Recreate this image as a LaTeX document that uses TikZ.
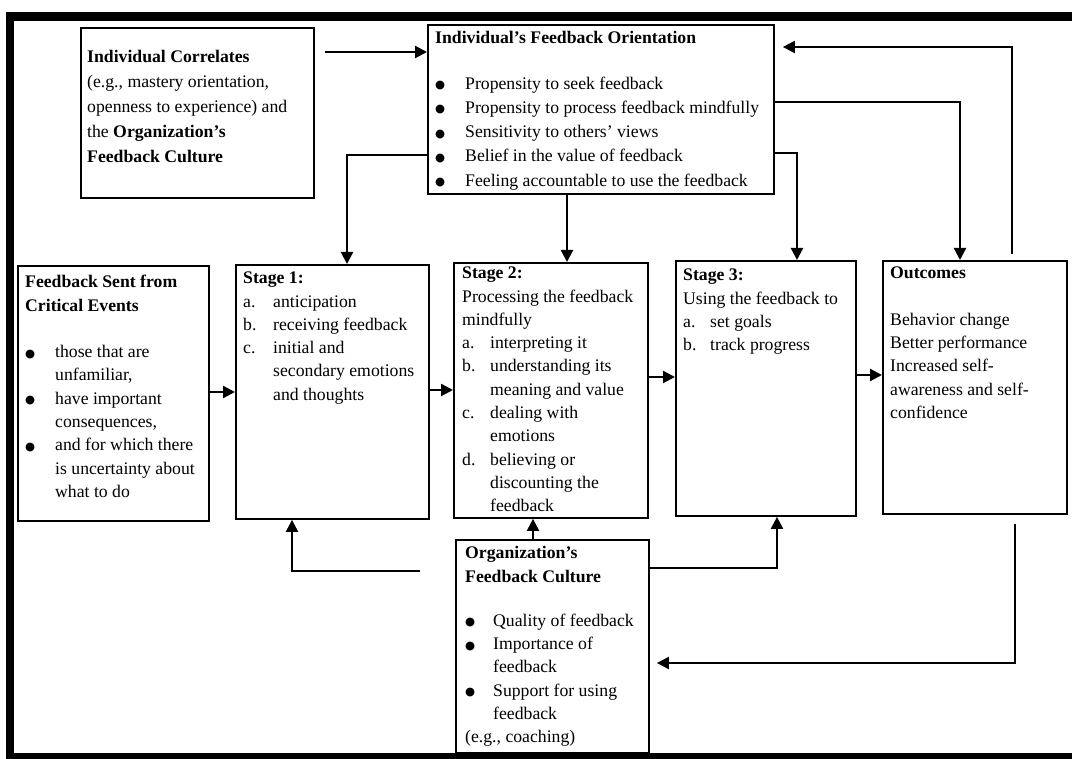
\documentclass[tikz,border=0pt]{standalone}
\usepackage{fontspec}
\setmainfont{Liberation Serif}
\newfontfamily\symfont{DejaVu Sans}
\usetikzlibrary{arrows.meta,calc}
% body text: Times-like serif, one size throughout
\newcommand\bodyfont[1][23.3]{\fontsize{17.7}{#1}\selectfont}
% hanging labels for lettered / bulleted lists
\newcommand\lbl[2][30pt]{\makebox[#1][l]{#2}}
\newcommand\cont[1][30pt]{\hspace*{#1}}
% a heavier list bullet
\newcommand\bul{\raisebox{0.5pt}{\symfont\fontsize{11.5}{11.5}\selectfont ●}}
\begin{document}
\begin{tikzpicture}[x=1pt,y=-1pt,
  box/.style={draw, line width=1.9pt, anchor=north west, inner sep=0pt},
  txt/.style={anchor=north west, inner sep=0pt, align=left, font=\bodyfont},
  conn/.style={line width=2.2pt},
  arr/.style={conn, -{Triangle[length=12pt,width=12pt]}}]
\useasboundingbox (0,0) rectangle (1072,759);

% heavy frame on three sides
\fill (6,12) rectangle (1072,21);
\fill (6,12) rectangle (14,759);
\fill (14,753) rectangle (1072,759);

% boxes
\node[box, minimum width=233pt, minimum height=170pt] (corr)   at (80,27)  {};
\node[box, minimum width=346pt, minimum height=169pt] (orient) at (427,24) {};
\node[box, minimum width=191pt, minimum height=255pt] (sent)   at (17,265) {};
\node[box, minimum width=193pt, minimum height=254pt] (st1)    at (235,264) {};
\node[box, minimum width=194pt, minimum height=255pt] (st2)    at (453,262) {};
\node[box, minimum width=180pt, minimum height=255pt] (st3)    at (675,260) {};
\node[box, minimum width=184pt, minimum height=253pt] (out)    at (882,260) {};
\node[box, minimum width=193pt, minimum height=213pt] (org)    at (455,539) {};

% box texts
\node[txt, font={\bodyfont[25]}] (corrT) at (87,45) {\strut\textbf{Individual Correlates}\\
(e.g., mastery orientation,\\
openness to experience) and\\
the \textbf{Organization’s}\\
\textbf{Feedback Culture}};

\node[txt, font={\bodyfont[24.3]}] (orientT) at (435,26.5) {\strut\textbf{Individual’s Feedback Orientation}\\[21pt]
\lbl{\bul}Propensity to seek feedback\\
\lbl{\bul}Propensity to process feedback mindfully\\
\lbl{\bul}Sensitivity to others’ views\\
\lbl{\bul}Belief in the value of feedback\\
\lbl{\bul}Feeling accountable to use the feedback};

\node[txt] (sentT) at (25,271.2) {\strut\textbf{Feedback Sent from}\\
\textbf{Critical Events}\\[23.3pt]
\lbl{\bul}those that are\\
\cont unfamiliar,\\
\lbl{\bul}have important\\
\cont consequences,\\
\lbl{\bul}and for which there\\
\cont is uncertainty about\\
\cont what to do};

\node[txt] (st1T) at (243,267.2) {\strut\textbf{Stage 1:}\\
\lbl{a.}anticipation\\
\lbl{b.}receiving feedback\\
\lbl{c.}initial and\\
\cont secondary emotions\\
\cont and thoughts};

\node[txt] (st2T) at (462,262.2) {\strut\textbf{Stage 2:}\\
Processing the feedback\\
mindfully\\
\lbl[28pt]{a.}interpreting it\\
\lbl[28pt]{b.}understanding its\\
\cont[28pt]meaning and value\\
\lbl[28pt]{c.}dealing with\\
\cont[28pt]emotions\\
\lbl[28pt]{d.}believing or\\
\cont[28pt]discounting the\\
\cont[28pt]feedback};

\node[txt] (st3T) at (683,264.2) {\strut\textbf{Stage 3:}\\
Using the feedback to\\
\lbl[27pt]{a.}set goals\\
\lbl[27pt]{b.}track progress};

\node[txt] (outT) at (890,262.2) {\strut\textbf{Outcomes}\\[23.3pt]
Behavior change\\
Better performance\\
Increased self-\\
awareness and self-\\
confidence};

\node[txt] (orgT) at (465,542.2) {\strut\textbf{Organization’s}\\
\textbf{Feedback Culture}\\[21pt]
\lbl[28pt]{\bul}Quality of feedback\\
\lbl[28pt]{\bul}Importance of\\
\cont[28pt]feedback\\
\lbl[28pt]{\bul}Support for using\\
\cont[28pt]feedback\\
(e.g., coaching)};

% connectors
\draw[arr] ($(corr.east |- 0,52)+(10,0)$) -- (orient.west |- 0,52);
\draw[arr] (orient.west |- 0,155) -| (st1.north -| 347,0);
\draw[arr] (orient.south -| 567,0) -- (st2.north -| 567,0);
\draw[arr] (orient.east |- 0,153) -| (st3.north -| 797,0);
\draw[arr] (orient.east |- 0,102) -| (out.north -| 960,0);
\draw[arr] ($(out.north -| 1012,0)+(0,-6)$) |- ($(orient.east |- 0,47)+(8,0)$);

\draw[arr] (sent.east |- 0,392) -- (st1.west |- 0,392);
\draw[arr] (st1.east |- 0,390) -- (st2.west |- 0,390);
\draw[arr] (st2.east |- 0,377) -- (st3.west |- 0,377);
\draw[arr] (st3.east |- 0,375) -- (out.west |- 0,375);

\draw[arr] (org.north -| 533,0) -- (st2.south -| 533,0);
\draw[arr] ($(org.west |- 0,571)+(-35,0)$) -| (st1.south -| 292,0);
\draw[arr] (org.east |- 0,568) -| (st3.south -| 777,0);
\draw[arr] ($(out.south -| 1015,0)+(0,9)$) |- ($(org.east |- 0,663)+(7,0)$);
\end{tikzpicture}
\end{document}
